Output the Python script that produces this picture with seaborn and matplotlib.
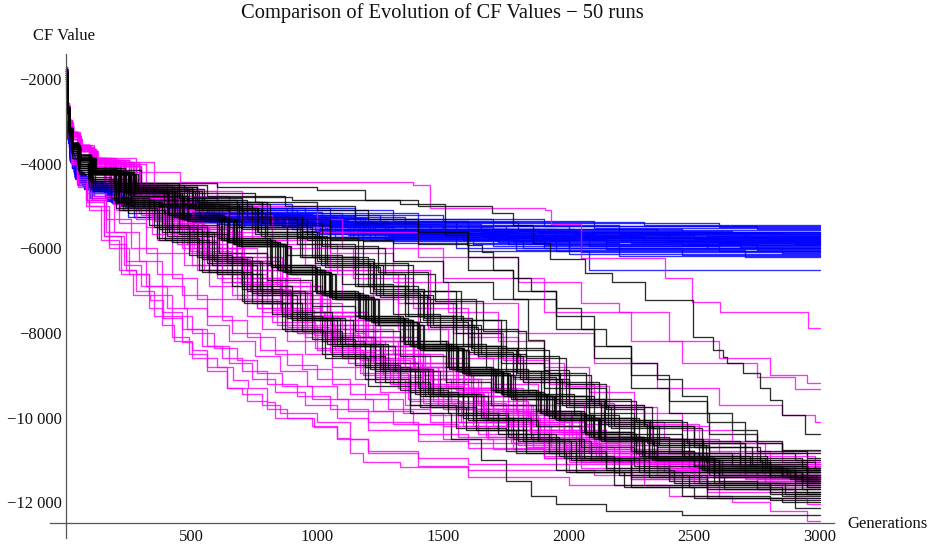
import numpy as np
import pandas as pd
import matplotlib
matplotlib.use("Agg")
import matplotlib.pyplot as plt
import seaborn as sns

# ---------------- data: step breakpoints (generation, CF value) per run ----------------
BLUE_RUNS = [
 [(0,-1750),(3,-2650),(8,-3300),(17,-3800),(36,-4200),(72,-4450),(160,-4700),(420,-4950),(900,-5200),(1500,-5380),(2300,-5450)],
 [(0,-1900),(4,-2800),(10,-3450),(20,-3900),(40,-4300),(85,-4550),(230,-4800),(600,-5050),(1150,-5300),(1900,-5480)],
 [(0,-2100),(3,-2700),(7,-3250),(15,-3750),(32,-4150),(60,-4400),(130,-4650),(350,-4900),(780,-5150),(1400,-5400),(2600,-5500)],
 [(0,-1700),(4,-2750),(9,-3400),(19,-3900),(42,-4300),(100,-4600),(280,-4850),(700,-5100),(1300,-5350),(2100,-5520)],
 [(0,-2300),(3,-2900),(8,-3400),(16,-3850),(34,-4250),(78,-4500),(200,-4750),(520,-5050),(1050,-5300),(1700,-5470),(2750,-5550)],
 [(0,-1800),(4,-2700),(9,-3350),(18,-3850),(38,-4250),(75,-4550),(190,-4850),(480,-5100),(1000,-5380),(1800,-5570)],
 [(0,-2000),(3,-2750),(8,-3350),(16,-3800),(34,-4200),(65,-4450),(170,-4750),(450,-5050),(950,-5350),(1600,-5540),(2450,-5600)],
 [(0,-1950),(4,-2800),(10,-3450),(21,-3950),(45,-4350),(95,-4600),(250,-4900),(650,-5200),(1250,-5480),(2000,-5620)],
 [(0,-2200),(3,-2700),(7,-3300),(14,-3750),(30,-4150),(60,-4400),(150,-4700),(400,-5050),(880,-5380),(1550,-5590),(2650,-5640)],
 [(0,-1850),(4,-2750),(9,-3400),(18,-3900),(40,-4300),(85,-4550),(220,-4850),(560,-5150),(1100,-5450),(2200,-5650)],
 [(0,-2400),(3,-2900),(8,-3500),(17,-3950),(36,-4350),(70,-4600),(180,-4900),(470,-5200),(1000,-5480),(1750,-5630),(2850,-5670)],
 [(0,-1750),(4,-2800),(11,-3500),(23,-4000),(48,-4400),(120,-4650),(300,-4950),(740,-5250),(1350,-5540),(2350,-5690)],
 [(0,-2050),(3,-2750),(8,-3350),(16,-3850),(35,-4250),(78,-4500),(200,-4800),(500,-5130),(1020,-5430),(1650,-5610),(2550,-5700)],
 [(0,-1900),(4,-2750),(10,-3400),(20,-3900),(42,-4300),(90,-4580),(230,-4900),(580,-5230),(1150,-5530),(1950,-5720)],
 [(0,-2150),(3,-2700),(7,-3300),(15,-3800),(31,-4200),(62,-4430),(160,-4780),(430,-5100),(920,-5430),(1500,-5640),(2700,-5740)],
 [(0,-1800),(4,-2800),(10,-3450),(22,-3950),(46,-4350),(100,-4620),(260,-4950),(640,-5280),(1200,-5580),(2050,-5750)],
 [(0,-2250),(3,-2850),(8,-3400),(17,-3900),(36,-4300),(72,-4530),(185,-4850),(460,-5180),(980,-5500),(1700,-5690),(2500,-5770)],
 [(0,-1950),(4,-2750),(9,-3400),(19,-3900),(40,-4300),(88,-4580),(215,-4900),(540,-5250),(1080,-5560),(1850,-5780)],
 [(0,-2000),(4,-2800),(10,-3450),(21,-3950),(45,-4350),(98,-4630),(245,-4950),(620,-5280),(1180,-5580),(1980,-5720),(2800,-5800)],
 [(0,-1700),(3,-2700),(8,-3350),(17,-3850),(36,-4250),(76,-4500),(195,-4850),(490,-5200),(1030,-5530),(1780,-5820)],
 [(0,-2300),(3,-2800),(7,-3350),(14,-3800),(30,-4200),(60,-4450),(155,-4800),(410,-5150),(860,-5480),(1450,-5690),(2400,-5830)],
 [(0,-1850),(4,-2750),(10,-3400),(20,-3900),(42,-4320),(92,-4600),(235,-4950),(600,-5300),(1170,-5630),(2150,-5850)],
 [(0,-2100),(3,-2750),(8,-3350),(16,-3850),(34,-4250),(70,-4500),(180,-4850),(470,-5220),(990,-5560),(1680,-5750),(2600,-5860)],
 [(0,-1900),(4,-2800),(11,-3500),(23,-4000),(50,-4400),(108,-4680),(275,-5000),(690,-5350),(1280,-5680),(2250,-5880)],
 [(0,-2200),(3,-2800),(8,-3400),(17,-3900),(37,-4300),(80,-4560),(205,-4900),(520,-5270),(1060,-5620),(1800,-5810),(2900,-5900)],
 [(0,-1800),(4,-2750),(9,-3400),(19,-3900),(40,-4300),(85,-4600),(220,-4950),(560,-5330),(1120,-5680),(1900,-5910)],
 [(0,-2050),(3,-2700),(7,-3300),(15,-3800),(32,-4200),(64,-4450),(165,-4830),(440,-5200),(940,-5580),(1580,-5790),(2450,-5930)],
 [(0,-1950),(4,-2800),(10,-3450),(21,-3950),(46,-4350),(100,-4650),(255,-5000),(650,-5370),(1230,-5730),(2080,-5950)],
 [(0,-2350),(3,-2850),(8,-3400),(17,-3900),(36,-4300),(74,-4540),(190,-4900),(480,-5270),(1010,-5640),(1720,-5840),(2680,-5960)],
 [(0,-1750),(4,-2750),(9,-3400),(19,-3900),(41,-4320),(90,-4620),(230,-4980),(590,-5370),(1160,-5740),(2000,-5980)],
 [(0,-2000),(3,-2750),(8,-3350),(17,-3850),(36,-4250),(77,-4530),(198,-4900),(500,-5280),(1040,-5660),(1760,-5890),(2550,-6000)],
 [(0,-1850),(4,-2900),(11,-3600),(23,-4100),(48,-4500),(105,-4850),(270,-5250),(680,-5450),(1270,-5780),(2150,-6010)],
 [(0,-2150),(3,-2700),(7,-3300),(15,-3800),(32,-4200),(66,-4470),(170,-4850),(450,-5250),(960,-5660),(1620,-5890),(2750,-6030)],
 [(0,-1900),(4,-2750),(9,-3400),(19,-3900),(40,-4300),(86,-4600),(220,-4980),(570,-5380),(1130,-5760),(1950,-6050)],
 [(0,-2250),(3,-2850),(8,-3400),(16,-3900),(35,-4300),(71,-4560),(182,-4930),(470,-5330),(1000,-5720),(1700,-5940),(2600,-6060)],
 [(0,-1800),(4,-2900),(10,-3600),(22,-4100),(46,-4500),(97,-4800),(248,-5250),(630,-5450),(1210,-5810),(2050,-6080)],
 [(0,-2050),(3,-2750),(8,-3350),(17,-3850),(37,-4280),(79,-4560),(203,-4930),(515,-5330),(1070,-5740),(1820,-5990),(2850,-6100)],
 [(0,-1950),(4,-2750),(10,-3400),(20,-3900),(42,-4320),(91,-4630),(233,-5010),(600,-5420),(1180,-5830),(2000,-6120)],
 [(0,-2300),(3,-2800),(7,-3350),(14,-3850),(30,-4250),(63,-4500),(162,-4880),(430,-5300),(920,-5730),(1550,-5990),(2450,-6150)],
 [(0,-1750),(4,-2850),(11,-3550),(24,-4100),(50,-4500),(112,-4750),(285,-5100),(710,-5500),(1300,-5880),(2200,-6170)],
 [(0,-2100),(3,-2800),(8,-3400),(17,-3900),(36,-4320),(76,-4580),(196,-4950),(500,-5370),(1050,-5780),(1790,-6040),(2700,-6200)],
 [(0,-1900),(4,-2750),(9,-3400),(18,-3900),(39,-4300),(83,-4600),(212,-4950),(540,-5300),(1090,-5530),(1880,-5600)],
 [(0,-2200),(3,-2750),(8,-3350),(16,-3850),(34,-4250),(69,-4520),(176,-4870),(460,-5230),(970,-5530),(1660,-5700)],
 [(0,-1850),(4,-2800),(10,-3450),(21,-3950),(45,-4350),(99,-4630),(252,-4980),(640,-5350),(1220,-5660),(2100,-5800)],
 [(0,-2000),(3,-2700),(7,-3300),(14,-3800),(30,-4200),(61,-4450),(158,-4820),(420,-5180),(900,-5530),(1520,-5740),(2480,-5900)],
 [(0,-1800),(4,-2750),(10,-3400),(20,-3900),(43,-4320),(94,-4620),(240,-4950),(610,-5280),(1190,-5530),(2020,-5650)],
 [(0,-2250),(3,-2850),(8,-3400),(17,-3900),(36,-4300),(73,-4540),(187,-4900),(480,-5250),(1010,-5550),(1730,-5750)],
 [(0,-1950),(4,-2850),(11,-3500),(23,-4000),(49,-4420),(107,-4680),(272,-5030),(700,-5400),(1280,-5700),(2300,-5850)],
 [(0,-2100),(4,-2800),(10,-3450),(21,-3950),(44,-4350),(88,-4600),(225,-4970),(570,-5350),(1140,-5730),(1900,-6000)],
 [(0,-1900),(3,-2750),(8,-3400),(17,-3900),(37,-4300),(80,-4560),(205,-4930),(530,-5300),(1100,-5730),(1600,-6050),(2080,-6500)],
]

MAGENTA_RUNS = [
 [(0,-1800),(4,-2600),(11,-3000),(25,-3350),(55,-3650),(110,-3950),(180,-4200),(454,-4430),(1381,-4500),(1448,-5050),(1906,-5100),(1930,-5430),(2049,-6230),(2384,-6700),(2491,-7270),(2602,-7500),(2953,-7890)],
 [(0,-1750),(4,-2550),(10,-2950),(23,-3300),(52,-3600),(105,-3900),(250,-4450),(600,-5000),(1000,-5600),(1400,-6200),(1800,-6800),(2050,-7300),(2200,-7500),(2400,-8200),(2600,-8600),(2800,-9000),(2950,-9190)],
 [(0,-2000),(4,-2650),(11,-3050),(25,-3350),(56,-3650),(120,-3950),(350,-4650),(700,-5300),(1100,-6000),(1500,-6700),(1900,-7500),(2250,-8200),(2450,-8700),(2750,-9050),(2900,-9330)],
 [(0,-1900),(4,-2600),(10,-3000),(23,-3350),(50,-3650),(110,-4050),(300,-4750),(650,-5600),(1050,-6500),(1450,-7300),(1800,-8000),(2100,-8700),(2350,-9300),(2600,-9700),(2850,-9950),(2980,-10110)],
 [(0,-1800),(4,-2750),(10,-3350),(22,-3950),(45,-4450),(80,-4850),(150,-5700),(220,-6600),(267,-7110),(334,-7230),(387,-7650),(461,-8220),(500,-8600),(600,-8810),(665,-9120),(725,-9300),(800,-9640),(832,-10010),(985,-10230),(1078,-10490),(1130,-10850),(1183,-11060),(1330,-11180),(1600,-11250),(2100,-11350),(2700,-11450)],
 [(0,-1900),(4,-2800),(10,-3400),(23,-4000),(48,-4500),(90,-5000),(170,-5900),(240,-6500),(280,-6600),(330,-7400),(380,-7800),(430,-8200),(500,-8400),(560,-8800),(640,-9300),(700,-9450),(780,-9700),(850,-9900),(1000,-10100),(1130,-10500),(1200,-10800),(1400,-10950),(1600,-11100),(2000,-11300),(2600,-11500)],
 [(0,-1850),(4,-2750),(10,-3350),(22,-3950),(47,-4450),(85,-4850),(160,-5600),(240,-6300),(320,-6900),(400,-7400),(480,-7900),(560,-8300),(650,-8700),(740,-9100),(830,-9400),(950,-9700),(1080,-10000),(1200,-10300),(1400,-10550),(1600,-10730),(1900,-10950),(2300,-11200),(2700,-11400)],
 [(0,-1850),(4,-2600),(10,-3000),(23,-3300),(50,-3600),(100,-3900),(180,-4450),(330,-5100),(520,-5800),(700,-6500),(880,-7200),(1050,-7800),(1250,-8500),(1450,-9100),(1650,-9700),(1850,-10200),(2050,-10650),(2250,-10950),(2500,-11120),(2750,-11200)],
 [(0,-1950),(4,-2650),(11,-3050),(25,-3350),(55,-3650),(115,-3950),(260,-4700),(450,-5500),(640,-6300),(820,-7000),(980,-7600),(1180,-8300),(1380,-8900),(1560,-9500),(1780,-10100),(2000,-10600),(2200,-10950),(2450,-11200),(2800,-11300)],
 [(0,-1750),(3,-2550),(9,-2950),(21,-3250),(48,-3550),(95,-3850),(160,-4350),(300,-5200),(460,-6000),(620,-6800),(780,-7500),(950,-8100),(1120,-8700),(1320,-9300),(1500,-9800),(1720,-10300),(1920,-10750),(2150,-11050),(2450,-11250),(2750,-11350)],
 [(0,-2100),(4,-2650),(11,-3050),(24,-3350),(53,-3650),(108,-3950),(230,-4650),(420,-5300),(600,-6000),(760,-6700),(930,-7300),(1100,-7900),(1300,-8500),(1500,-9100),(1700,-9700),(1900,-10200),(2100,-10650),(2350,-10950),(2700,-11100)],
 [(0,-1800),(4,-2600),(10,-3000),(22,-3300),(50,-3600),(100,-3900),(200,-4550),(380,-5400),(550,-6200),(720,-6900),(900,-7600),(1080,-8200),(1270,-8800),(1480,-9400),(1680,-9900),(1900,-10400),(2150,-10900),(2400,-11250),(2750,-11450)],
 [(0,-2000),(4,-2600),(10,-3000),(23,-3300),(51,-3600),(102,-3950),(240,-4850),(430,-5700),(600,-6600),(760,-7400),(920,-8000),(1100,-8600),(1300,-9200),(1520,-9800),(1750,-10300),(1980,-10750),(2250,-11050),(2600,-11250)],
 [(0,-1900),(3,-2550),(9,-2950),(21,-3250),(47,-3550),(95,-3850),(190,-4500),(360,-5300),(540,-6100),(700,-6800),(860,-7500),(1030,-8100),(1220,-8700),(1420,-9300),(1630,-9900),(1850,-10400),(2080,-10850),(2350,-11200),(2700,-11400)],
 [(0,-1850),(4,-2700),(12,-3100),(27,-3400),(60,-3700),(125,-4000),(280,-4800),(480,-5500),(680,-6200),(860,-6900),(1020,-7500),(1200,-8100),(1400,-8700),(1600,-9300),(1820,-9900),(2050,-10400),(2280,-10850),(2550,-11150),(2900,-11250)],
 [(0,-2200),(4,-2650),(10,-3050),(22,-3350),(48,-3650),(96,-3950),(170,-4600),(320,-5500),(470,-6400),(620,-7200),(780,-7900),(950,-8500),(1150,-9100),(1350,-9700),(1580,-10200),(1800,-10650),(2050,-11050),(2350,-11350),(2750,-11500)],
 [(0,-1750),(4,-2600),(11,-3000),(24,-3300),(54,-3600),(110,-3900),(250,-4700),(440,-5400),(620,-6100),(800,-6800),(970,-7500),(1150,-8100),(1340,-8700),(1540,-9300),(1740,-9850),(1960,-10350),(2200,-10850),(2480,-11200),(2850,-11350)],
 [(0,-1950),(4,-2650),(11,-3050),(25,-3350),(56,-3650),(112,-3950),(265,-4750),(460,-5500),(640,-6300),(800,-7000),(960,-7600),(1130,-8200),(1320,-8800),(1510,-9300),(1700,-9800),(1920,-10300),(2150,-10750),(2450,-11050),(2800,-11150)],
 [(0,-1800),(3,-2550),(8,-2950),(20,-3250),(45,-3550),(92,-3850),(155,-4400),(290,-5150),(440,-5900),(600,-6700),(760,-7400),(920,-8000),(1100,-8600),(1290,-9200),(1480,-9700),(1700,-10200),(1930,-10700),(2180,-11050),(2500,-11300),(2850,-11400)],
 [(0,-2050),(4,-2700),(12,-3100),(26,-3400),(58,-3700),(118,-4000),(290,-4850),(500,-5600),(700,-6400),(880,-7100),(1050,-7700),(1230,-8300),(1420,-8900),(1620,-9500),(1830,-10000),(2050,-10500),(2300,-10950),(2580,-11250),(2950,-11400)],
 [(0,-1900),(4,-2600),(10,-3000),(22,-3300),(49,-3600),(98,-3900),(205,-4600),(370,-5300),(540,-6000),(710,-6700),(870,-7300),(1040,-7900),(1230,-8500),(1430,-9100),(1640,-9700),(1860,-10200),(2080,-10650),(2350,-11000),(2700,-11150)],
 [(0,-1700),(4,-2600),(11,-3000),(24,-3300),(53,-3600),(106,-3950),(235,-4750),(410,-5600),(580,-6400),(740,-7100),(900,-7800),(1070,-8400),(1260,-9000),(1460,-9600),(1670,-10100),(1900,-10600),(2130,-11050),(2400,-11400),(2800,-11550)],
 [(0,-2150),(4,-2600),(10,-3000),(22,-3300),(49,-3600),(97,-3900),(185,-4550),(340,-5250),(510,-6000),(680,-6700),(850,-7400),(1010,-8000),(1190,-8600),(1390,-9200),(1600,-9800),(1820,-10300),(2050,-10800),(2320,-11100),(2700,-11300)],
 [(0,-1850),(4,-2650),(11,-3050),(25,-3350),(56,-3650),(114,-3950),(270,-4800),(470,-5500),(660,-6200),(840,-6900),(1010,-7500),(1190,-8100),(1380,-8700),(1580,-9300),(1790,-9850),(2010,-10350),(2250,-10850),(2520,-11150),(2900,-11300)],
 [(0,-2000),(4,-2600),(10,-3000),(23,-3300),(51,-3600),(103,-3900),(215,-4650),(390,-5450),(560,-6250),(730,-7000),(890,-7650),(1060,-8250),(1250,-8850),(1450,-9450),(1660,-10000),(1880,-10500),(2120,-10950),(2400,-11300),(2780,-11500)],
 [(0,-1800),(4,-2700),(12,-3100),(27,-3400),(60,-3700),(125,-4050),(300,-4900),(510,-5700),(700,-6500),(880,-7200),(1050,-7800),(1230,-8400),(1420,-9000),(1620,-9600),(1840,-10100),(2070,-10600),(2300,-11000),(2580,-11350),(2950,-11500)],
 [(0,-1950),(3,-2550),(9,-2950),(21,-3250),(47,-3550),(95,-3850),(175,-4500),(320,-5200),(480,-5900),(640,-6600),(800,-7300),(960,-7900),(1140,-8500),(1330,-9100),(1530,-9650),(1750,-10150),(1980,-10650),(2250,-11000),(2600,-11250),(2950,-11350)],
 [(0,-1900),(4,-2600),(10,-3000),(23,-3300),(51,-3600),(102,-3950),(225,-4700),(400,-5500),(570,-6300),(735,-7000),(895,-7650),(1065,-8250),(1255,-8850),(1455,-9450),(1665,-10000),(1885,-10500),(2120,-10950),(2400,-11350),(2780,-11600)],
 [(0,-2100),(4,-2700),(12,-3100),(26,-3400),(58,-3700),(117,-4000),(280,-4800),(485,-5550),(675,-6300),(850,-7000),(1015,-7600),(1195,-8200),(1385,-8800),(1585,-9400),(1795,-9950),(2015,-10450),(2250,-10950),(2530,-11250),(2900,-11450)],
 [(0,-1750),(4,-2600),(10,-3000),(22,-3300),(49,-3600),(98,-3900),(195,-4600),(355,-5350),(525,-6100),(695,-6850),(855,-7500),(1025,-8100),(1215,-8700),(1415,-9300),(1625,-9850),(1845,-10350),(2080,-10850),(2350,-11200),(2700,-11400)],
 [(0,-2000),(3,-2550),(8,-2950),(19,-3250),(44,-3550),(90,-3850),(150,-4450),(280,-5300),(420,-6100),(570,-6900),(720,-7600),(880,-8200),(1060,-8800),(1250,-9400),(1450,-9950),(1670,-10450),(1900,-10950),(2180,-11300),(2500,-11550),(2850,-11650)],
 [(0,-1850),(4,-2650),(11,-3050),(25,-3350),(55,-3650),(112,-3950),(260,-4750),(455,-5550),(640,-6300),(815,-7000),(980,-7600),(1160,-8200),(1350,-8800),(1550,-9350),(1760,-9900),(1980,-10400),(2200,-10850),(2480,-11200),(2850,-11350)],
 [(0,-1950),(4,-2600),(10,-3000),(23,-3300),(50,-3600),(101,-3900),(220,-4700),(395,-5500),(565,-6250),(730,-6950),(890,-7600),(1060,-8200),(1250,-8800),(1450,-9400),(1660,-9950),(1880,-10450),(2110,-10950),(2380,-11300),(2750,-11550)],
 [(0,-1800),(3,-2550),(9,-2950),(21,-3250),(47,-3550),(94,-3850),(180,-4550),(330,-5300),(495,-6050),(660,-6800),(820,-7450),(985,-8050),(1170,-8650),(1370,-9250),(1580,-9800),(1800,-10300),(2030,-10800),(2300,-11150),(2680,-11400)],
 [(0,-2050),(4,-2700),(12,-3100),(26,-3400),(59,-3700),(120,-4050),(295,-4900),(505,-5650),(700,-6400),(875,-7100),(1040,-7700),(1220,-8300),(1410,-8900),(1610,-9500),(1820,-10050),(2040,-10550),(2270,-11050),(2550,-11400),(2950,-11600)],
 [(0,-1800),(4,-2700),(10,-3300),(22,-3900),(45,-4400),(85,-4900),(150,-5700),(230,-6400),(300,-6900),(380,-7500),(460,-7900),(540,-8300),(620,-8600),(700,-8900),(800,-9200),(920,-9500),(1050,-9800),(1200,-10100),(1400,-10400),(1600,-10600),(1900,-10900),(2250,-11100),(2650,-11300)],
 [(0,-2000),(4,-2800),(10,-3400),(23,-4000),(48,-4550),(92,-5100),(170,-6000),(250,-6600),(330,-7100),(420,-7600),(500,-8000),(590,-8350),(680,-8650),(760,-8950),(860,-9250),(980,-9550),(1120,-9850),(1300,-10150),(1500,-10500),(1700,-10750),(2000,-11000),(2350,-11200),(2750,-11400)],
 [(0,-1900),(4,-2750),(9,-3350),(20,-3950),(42,-4500),(78,-5000),(140,-5800),(210,-6500),(280,-7000),(350,-7600),(420,-8100),(490,-8500),(560,-8900),(640,-9300),(720,-9600),(800,-9800),(880,-10000),(980,-10200),(1080,-10500),(1200,-10850),(1400,-11150),(1600,-11410),(2000,-11600),(2400,-11850),(2650,-12000),(2800,-12200),(2950,-12450)],
 [(0,-1850),(4,-2700),(10,-3300),(23,-3850),(48,-4350),(98,-4800),(190,-5600),(290,-6300),(380,-6900),(470,-7400),(560,-7800),(650,-8200),(750,-8550),(850,-8900),(960,-9250),(1080,-9550),(1220,-9850),(1380,-10150),(1560,-10450),(1780,-10750),(2050,-11000),(2400,-11250),(2800,-11450)],
 [(0,-2100),(4,-2700),(11,-3250),(24,-3800),(52,-4300),(108,-4750),(210,-5400),(320,-6100),(420,-6700),(520,-7200),(620,-7700),(720,-8100),(830,-8500),(940,-8850),(1060,-9200),(1190,-9550),(1340,-9900),(1500,-10200),(1680,-10500),(1900,-10800),(2200,-11050),(2550,-11300),(2900,-11500)],
 [(0,-1750),(4,-2700),(10,-3300),(21,-3850),(44,-4350),(82,-4700),(160,-5300),(260,-6000),(360,-6600),(460,-7100),(560,-7600),(660,-8000),(770,-8400),(880,-8750),(1000,-9100),(1130,-9450),(1280,-9800),(1450,-10100),(1640,-10400),(1860,-10700),(2130,-10950),(2480,-11200),(2850,-11400)],
 [(0,-1800),(4,-2550),(11,-2950),(25,-3250),(56,-3550),(112,-3850),(280,-4500),(520,-5000),(800,-5500),(1050,-6100),(1300,-6800),(1520,-7500),(1720,-8200),(1900,-8800),(2080,-9400),(2260,-9900),(2450,-10300),(2650,-10600),(2850,-10800)],
 [(0,-2000),(4,-2600),(10,-3000),(23,-3300),(51,-3600),(100,-3900),(230,-4500),(450,-5100),(700,-5700),(950,-6400),(1180,-7100),(1400,-7800),(1600,-8500),(1780,-9100),(1950,-9600),(2130,-10100),(2330,-10500),(2560,-10800),(2800,-11000)],
 [(0,-1900),(4,-2650),(12,-3050),(27,-3350),(60,-3650),(120,-3950),(290,-4600),(540,-5200),(820,-5900),(1080,-6600),(1320,-7300),(1540,-8000),(1740,-8650),(1920,-9200),(2100,-9700),(2300,-10150),(2520,-10550),(2750,-10850),(2950,-11000)],
 [(0,-1850),(3,-2550),(9,-2950),(21,-3250),(46,-3550),(92,-3850),(200,-4450),(400,-5100),(640,-5800),(880,-6500),(1100,-7200),(1320,-7900),(1520,-8600),(1700,-9200),(1880,-9700),(2060,-10150),(2260,-10550),(2480,-10850),(2750,-11100)],
 [(0,-2050),(4,-2600),(10,-3000),(23,-3300),(52,-3600),(105,-3900),(250,-4550),(480,-5150),(740,-5800),(990,-6500),(1220,-7200),(1440,-7900),(1640,-8600),(1820,-9150),(2000,-9650),(2180,-10100),(2380,-10500),(2600,-10850),(2850,-11050)],
 [(0,-1750),(4,-2700),(12,-3100),(28,-3400),(62,-3700),(128,-4000),(320,-4650),(600,-5300),(880,-6000),(1140,-6700),(1380,-7400),(1600,-8100),(1800,-8700),(1980,-9250),(2160,-9750),(2350,-10200),(2560,-10600),(2780,-10900),(2980,-11050)],
 [(0,-1950),(4,-2650),(10,-3150),(22,-3600),(48,-4050),(95,-4500),(200,-5100),(360,-5800),(520,-6500),(680,-7200),(840,-7800),(1000,-8400),(1180,-9000),(1370,-9600),(1570,-10100),(1780,-10600),(2000,-11050),(2250,-11450),(2550,-11750),(2900,-11900)],
 [(0,-1800),(4,-2700),(10,-3200),(22,-3650),(47,-4100),(96,-4450),(215,-5050),(380,-5750),(550,-6500),(720,-7200),(880,-7850),(1050,-8450),(1230,-9050),(1420,-9650),(1620,-10200),(1830,-10700),(2050,-11200),(2300,-11600),(2600,-11900),(2950,-12050)],
 [(0,-2100),(4,-2650),(10,-3100),(21,-3550),(45,-4000),(88,-4400),(185,-4950),(340,-5650),(500,-6400),(660,-7100),(820,-7750),(990,-8350),(1170,-8950),(1360,-9550),(1560,-10100),(1770,-10600),(1990,-11100),(2250,-11450),(2550,-11700),(2900,-11800)],
]

BLACK_RUNS = [
 [(0,-1800),(4,-2700),(11,-3200),(24,-3550),(52,-3850),(120,-4150),(300,-4450),(600,-4550),(1000,-4620),(1190,-4860),(1400,-5000),(1695,-5170),(1779,-5450),(1858,-5880),(1926,-6240),(2065,-6590),(2173,-6800),(2304,-7230),(2495,-8100),(2575,-8410),(2614,-8570),(2630,-8710),(2694,-8950),(2762,-9300),(2800,-9590),(2850,-9950),(2940,-10380)],
 [(0,-1900),(4,-2750),(10,-3250),(23,-3600),(50,-3900),(105,-4250),(250,-4550),(500,-4780),(900,-4860),(1330,-4950),(1508,-5690),(1595,-5920),(1655,-6090),(1700,-6510),(1780,-6700),(1850,-7000),(1950,-7400),(2050,-7900),(2150,-8300),(2250,-8700),(2350,-9100),(2450,-9500),(2550,-9900),(2650,-10300),(2750,-10600),(2850,-10780)],
 [(0,-1750),(4,-2650),(10,-3150),(22,-3500),(48,-3800),(98,-4100),(220,-4450),(450,-4700),(750,-4900),(1000,-5100),(1200,-5300),(1400,-5600),(1600,-6200),(1800,-7000),(1950,-7600),(2100,-8300),(2250,-9000),(2400,-9600),(2550,-10100),(2700,-10550),(2850,-10850)],
 [(0,-2000),(4,-2700),(11,-3200),(24,-3550),(53,-3850),(110,-4200),(260,-4550),(520,-4900),(800,-5300),(1050,-5800),(1300,-6300),(1500,-6800),(1700,-7200),(1840,-8160),(1900,-8870),(2000,-9300),(2150,-9800),(2300,-10200),(2500,-10600),(2700,-10850),(2900,-11000)],
 [(0,-1850),(4,-2700),(10,-3200),(22,-3550),(47,-3850),(95,-4150),(200,-4500),(420,-4850),(680,-5300),(920,-5900),(1150,-6600),(1350,-7300),(1550,-8000),(1730,-8700),(1900,-9300),(2080,-9900),(2260,-10400),(2450,-10850),(2680,-11150),(2950,-11250)],
 [(0,-1950),(4,-2750),(10,-3250),(23,-3600),(50,-3900),(102,-4200),(240,-4600),(480,-5000),(740,-5500),(980,-6200),(1200,-6900),(1400,-7600),(1580,-8300),(1750,-8900),(1920,-9500),(2100,-10000),(2280,-10500),(2480,-10900),(2720,-11150),(2950,-11200)],
 [(0,-1800),(4,-2700),(11,-3200),(25,-3600),(55,-3900),(115,-4250),(280,-4650),(540,-5100),(800,-5700),(1040,-6400),(1260,-7100),(1460,-7800),(1650,-8500),(1830,-9100),(2000,-9700),(2180,-10200),(2360,-10650),(2560,-11000),(2800,-11250)],
 [(0,-2050),(4,-2650),(10,-3150),(22,-3500),(48,-3800),(97,-4150),(210,-4550),(430,-4950),(690,-5500),(930,-6200),(1150,-6900),(1350,-7600),(1540,-8300),(1720,-8900),(1890,-9500),(2070,-10000),(2250,-10500),(2450,-10900),(2680,-11200),(2950,-11350)],
 [(0,-1900),(4,-2700),(11,-3200),(24,-3550),(52,-3850),(106,-4200),(250,-4600),(500,-5050),(760,-5600),(1000,-6300),(1220,-7000),(1420,-7700),(1610,-8400),(1790,-9000),(1960,-9600),(2140,-10100),(2320,-10550),(2530,-10950),(2780,-11250)],
 [(0,-1750),(4,-2650),(10,-3150),(21,-3500),(46,-3800),(94,-4100),(190,-4500),(400,-4950),(650,-5500),(880,-6150),(1100,-6850),(1300,-7550),(1490,-8250),(1670,-8850),(1840,-9450),(2020,-9950),(2200,-10450),(2400,-10850),(2650,-11150),(2950,-11300)],
 [(0,-2000),(4,-2700),(10,-3200),(23,-3550),(50,-3850),(103,-4200),(245,-4600),(490,-5050),(750,-5650),(990,-6350),(1210,-7050),(1410,-7750),(1600,-8450),(1780,-9050),(1950,-9650),(2130,-10150),(2310,-10600),(2520,-11000),(2770,-11300)],
 [(0,-1850),(4,-2750),(11,-3250),(25,-3600),(55,-3900),(112,-4250),(275,-4650),(530,-5150),(790,-5750),(1030,-6450),(1250,-7150),(1450,-7850),(1640,-8550),(1820,-9150),(1990,-9750),(2170,-10250),(2350,-10700),(2560,-11100),(2800,-11400)],
 [(0,-1950),(4,-2650),(10,-3150),(22,-3500),(48,-3800),(98,-4150),(215,-4550),(440,-5000),(700,-5550),(940,-6200),(1160,-6900),(1360,-7600),(1550,-8300),(1730,-8900),(1900,-9500),(2080,-10000),(2260,-10500),(2460,-10950),(2700,-11300),(2950,-11450)],
 [(0,-1800),(4,-2700),(10,-3200),(23,-3550),(51,-3850),(104,-4200),(255,-4600),(505,-5050),(765,-5600),(1005,-6250),(1225,-6950),(1425,-7650),(1615,-8350),(1795,-8950),(1965,-9550),(2145,-10050),(2325,-10500),(2535,-10900),(2790,-11200)],
 [(0,-2100),(4,-2750),(11,-3250),(24,-3600),(53,-3900),(108,-4250),(265,-4650),(515,-5100),(775,-5700),(1015,-6400),(1235,-7100),(1435,-7800),(1625,-8500),(1805,-9100),(1975,-9700),(2155,-10200),(2335,-10650),(2545,-11050),(2800,-11350)],
 [(0,-1900),(4,-2750),(10,-3300),(22,-3700),(48,-4050),(95,-4400),(200,-4900),(380,-5500),(560,-6200),(740,-6900),(900,-7500),(1060,-8100),(1230,-8700),(1400,-9300),(1580,-9900),(1760,-10400),(1950,-10800),(2150,-11200),(2400,-11500),(2750,-11700)],
 [(0,-1800),(4,-2800),(11,-3350),(24,-3750),(52,-4100),(100,-4500),(220,-5000),(400,-5700),(580,-6400),(760,-7100),(920,-7700),(1080,-8300),(1250,-8900),(1430,-9500),(1620,-10050),(1820,-10550),(2030,-11000),(2250,-11350),(2550,-11600),(2900,-11750)],
 [(0,-2000),(4,-2700),(10,-3250),(21,-3650),(45,-4000),(88,-4350),(190,-4850),(350,-5500),(520,-6200),(700,-6950),(860,-7600),(1020,-8200),(1190,-8800),(1370,-9400),(1560,-9950),(1760,-10450),(1960,-10900),(2180,-11300),(2450,-11600),(2800,-11800)],
 [(0,-1850),(4,-2750),(11,-3300),(24,-3700),(52,-4050),(105,-4450),(240,-4950),(420,-5600),(600,-6300),(780,-7000),(950,-7650),(1110,-8250),(1280,-8850),(1460,-9450),(1650,-10000),(1850,-10500),(2060,-10950),(2300,-11300),(2600,-11550)],
 [(0,-1950),(4,-2700),(10,-3250),(22,-3650),(48,-4000),(96,-4400),(210,-4900),(370,-5550),(540,-6250),(720,-7000),(880,-7650),(1040,-8250),(1210,-8850),(1390,-9450),(1580,-10000),(1780,-10500),(1980,-10950),(2200,-11350),(2480,-11650),(2850,-11850)],
 [(0,-1750),(4,-2800),(11,-3350),(25,-3750),(55,-4100),(115,-4500),(260,-5000),(450,-5650),(640,-6350),(820,-7050),(980,-7700),(1140,-8300),(1310,-8900),(1490,-9500),(1680,-10050),(1880,-10550),(2090,-11000),(2320,-11400),(2620,-11700),(2950,-11800)],
 [(0,-2050),(4,-2700),(10,-3250),(22,-3650),(47,-4000),(92,-4400),(205,-4900),(380,-5600),(560,-6350),(740,-7050),(900,-7700),(1060,-8300),(1230,-8900),(1410,-9500),(1600,-10050),(1800,-10550),(2010,-11000),(2250,-11400),(2550,-11700),(2900,-11900)],
 [(0,-1900),(4,-2750),(11,-3300),(24,-3700),(51,-4050),(102,-4450),(230,-4950),(410,-5600),(590,-6300),(770,-7000),(930,-7650),(1090,-8250),(1260,-8850),(1440,-9450),(1630,-10000),(1830,-10500),(2040,-10950),(2280,-11300),(2580,-11550),(2950,-11650)],
 [(0,-1800),(4,-2650),(10,-3200),(21,-3600),(45,-3950),(86,-4300),(180,-4800),(330,-5450),(490,-6150),(660,-6900),(820,-7550),(980,-8150),(1150,-8750),(1330,-9350),(1520,-9900),(1720,-10400),(1920,-10850),(2150,-11250),(2420,-11550),(2800,-11750)],
 [(0,-1950),(4,-2700),(10,-3200),(23,-3550),(50,-3850),(102,-4200),(230,-4700),(440,-5250),(650,-5850),(850,-6500),(1030,-7100),(1200,-7700),(1380,-8300),(1560,-8900),(1740,-9500),(1920,-10000),(2100,-10500),(2300,-10950),(2550,-11300),(2900,-11500)],
 [(0,-1850),(4,-2750),(11,-3250),(25,-3600),(54,-3900),(112,-4250),(260,-4750),(470,-5300),(680,-5950),(880,-6600),(1060,-7200),(1230,-7800),(1410,-8400),(1590,-9000),(1770,-9550),(1950,-10050),(2130,-10550),(2340,-11000),(2600,-11350),(2950,-11550)],
 [(0,-2000),(4,-2650),(10,-3150),(22,-3500),(48,-3800),(97,-4150),(215,-4650),(420,-5200),(630,-5800),(830,-6450),(1010,-7050),(1180,-7650),(1360,-8250),(1540,-8850),(1720,-9400),(1900,-9950),(2080,-10450),(2280,-10900),(2530,-11250),(2880,-11450)],
 [(0,-1800),(4,-2700),(11,-3200),(24,-3550),(52,-3850),(106,-4200),(250,-4700),(460,-5300),(670,-5900),(870,-6550),(1050,-7150),(1220,-7750),(1400,-8350),(1580,-8950),(1760,-9500),(1940,-10000),(2120,-10500),(2320,-10950),(2580,-11300),(2930,-11500)],
 [(0,-1900),(4,-2700),(10,-3200),(23,-3550),(49,-3850),(100,-4200),(220,-4650),(430,-5250),(640,-5850),(840,-6500),(1020,-7100),(1190,-7700),(1370,-8300),(1550,-8900),(1730,-9450),(1910,-9950),(2090,-10450),(2290,-10900),(2540,-11250),(2900,-11450)],
 [(0,-2050),(4,-2650),(10,-3150),(21,-3500),(46,-3800),(94,-4100),(200,-4600),(400,-5150),(610,-5750),(810,-6400),(990,-7000),(1160,-7600),(1340,-8200),(1520,-8800),(1700,-9350),(1880,-9850),(2060,-10350),(2260,-10800),(2500,-11150),(2850,-11350)],
 [(0,-1750),(4,-2750),(11,-3250),(25,-3600),(55,-3900),(113,-4250),(270,-4750),(485,-5350),(695,-5950),(895,-6600),(1075,-7200),(1245,-7800),(1425,-8400),(1605,-9000),(1785,-9550),(1965,-10050),(2145,-10550),(2350,-11000),(2610,-11350),(2950,-11550)],
 [(0,-1950),(4,-2650),(10,-3150),(22,-3500),(48,-3800),(98,-4150),(210,-4650),(410,-5200),(620,-5800),(820,-6450),(1000,-7050),(1170,-7650),(1350,-8250),(1530,-8850),(1710,-9400),(1890,-9900),(2070,-10400),(2270,-10850),(2520,-11200),(2870,-11400)],
 [(0,-1850),(4,-2700),(11,-3200),(24,-3550),(51,-3850),(104,-4200),(245,-4700),(455,-5300),(665,-5900),(865,-6550),(1045,-7150),(1215,-7750),(1395,-8350),(1575,-8950),(1755,-9500),(1935,-10000),(2115,-10500),(2320,-10950),(2580,-11300),(2930,-11500)],
 [(0,-1900),(4,-2650),(10,-3150),(22,-3500),(49,-3800),(100,-4100),(235,-4500),(470,-4850),(720,-5300),(960,-5800),(1180,-6400),(1380,-7000),(1570,-7700),(1750,-8400),(1920,-9000),(2090,-9600),(2270,-10100),(2470,-10600),(2700,-11000),(2950,-11250)],
 [(0,-2000),(4,-2700),(11,-3200),(25,-3550),(54,-3850),(110,-4200),(265,-4550),(520,-4900),(780,-5400),(1020,-5950),(1240,-6550),(1440,-7200),(1630,-7900),(1800,-8550),(1960,-9150),(2120,-9700),(2300,-10200),(2500,-10700),(2730,-11100),(2950,-11300)],
 [(0,-1800),(4,-2650),(10,-3150),(22,-3500),(48,-3800),(97,-4100),(220,-4450),(450,-4800),(700,-5250),(940,-5750),(1160,-6350),(1360,-7000),(1550,-7700),(1730,-8350),(1900,-8950),(2070,-9550),(2250,-10050),(2450,-10550),(2680,-10950),(2930,-11200)],
 [(0,-1950),(4,-2750),(11,-3250),(25,-3600),(56,-3900),(116,-4250),(285,-4600),(550,-4950),(810,-5450),(1050,-6000),(1270,-6600),(1470,-7250),(1660,-7950),(1830,-8600),(1990,-9200),(2150,-9750),(2330,-10250),(2530,-10700),(2760,-11050),(2980,-11200)],
 [(0,-1850),(4,-2750),(10,-3300),(22,-3750),(47,-4150),(90,-4550),(200,-5050),(360,-5750),(530,-6500),(700,-7250),(860,-7900),(1020,-8500),(1190,-9100),(1370,-9700),(1550,-10250),(1750,-10800),(1950,-11250),(2180,-11600),(2450,-11850),(2800,-11950)],
 [(0,-2000),(4,-2800),(10,-3350),(23,-3800),(50,-4200),(100,-4600),(225,-5100),(395,-5800),(570,-6550),(740,-7300),(900,-7950),(1060,-8550),(1230,-9150),(1410,-9750),(1590,-10300),(1790,-10850),(1990,-11300),(2220,-11650),(2500,-11900),(2850,-12000)],
 [(0,-1750),(4,-2800),(11,-3400),(24,-3850),(52,-4250),(108,-4650),(245,-5150),(420,-5850),(600,-6600),(780,-7300),(940,-7950),(1100,-8550),(1270,-9150),(1450,-9750),(1630,-10300),(1830,-10850),(2030,-11300),(2250,-11650),(2550,-11900),(2900,-12150)],
 [(0,-1900),(4,-2750),(10,-3300),(22,-3750),(48,-4150),(90,-4550),(210,-5100),(370,-5800),(540,-6550),(710,-7300),(870,-7950),(1030,-8600),(1200,-9250),(1370,-9900),(1530,-10500),(1650,-11000),(1750,-11500),(1850,-11850),(1950,-12050),(2150,-12200),(2450,-12300)],
 [(0,-1800),(4,-2700),(10,-3200),(23,-3550),(50,-3850),(100,-4200),(235,-4700),(440,-5250),(650,-5850),(850,-6500),(1030,-7100),(1200,-7700),(1380,-8300),(1560,-8900),(1740,-9450),(1920,-9950),(2100,-10450),(2300,-10950),(2560,-11350),(2900,-11600)],
 [(0,-2050),(4,-2750),(11,-3250),(24,-3600),(53,-3900),(106,-4250),(255,-4750),(465,-5300),(675,-5900),(875,-6550),(1055,-7150),(1225,-7750),(1405,-8350),(1585,-8950),(1765,-9500),(1945,-10000),(2125,-10500),(2330,-11000),(2580,-11400),(2930,-11700)],
 [(0,-1900),(4,-2650),(10,-3150),(21,-3500),(46,-3800),(93,-4150),(195,-4600),(390,-5150),(600,-5750),(800,-6400),(980,-7000),(1150,-7600),(1330,-8200),(1510,-8800),(1690,-9350),(1870,-9850),(2050,-10350),(2250,-10800),(2500,-11150),(2850,-11400)],
 [(0,-1850),(4,-2750),(11,-3250),(25,-3600),(55,-3900),(111,-4250),(265,-4750),(480,-5350),(690,-5950),(890,-6600),(1070,-7200),(1240,-7800),(1420,-8400),(1600,-9000),(1780,-9550),(1960,-10050),(2140,-10550),(2350,-11000),(2600,-11400),(2950,-11650)],
 [(0,-1950),(4,-2700),(10,-3200),(23,-3550),(50,-3850),(101,-4200),(225,-4650),(435,-5250),(645,-5850),(845,-6500),(1025,-7100),(1195,-7700),(1375,-8300),(1555,-8900),(1735,-9450),(1915,-9950),(2095,-10450),(2300,-10900),(2550,-11250),(2900,-11450)],
 [(0,-1800),(4,-2650),(10,-3150),(22,-3500),(48,-3800),(96,-4150),(205,-4650),(405,-5200),(615,-5800),(815,-6450),(995,-7050),(1165,-7650),(1345,-8250),(1525,-8850),(1705,-9400),(1885,-9900),(2065,-10400),(2270,-10850),(2520,-11200),(2870,-11400)],
 [(0,-2000),(4,-2700),(11,-3200),(24,-3550),(52,-3850),(106,-4200),(250,-4700),(460,-5300),(670,-5900),(870,-6550),(1050,-7150),(1220,-7750),(1400,-8350),(1580,-8950),(1760,-9500),(1940,-10000),(2120,-10500),(2320,-10950),(2580,-11300),(2930,-11500)],
 [(0,-1900),(4,-2750),(10,-3250),(23,-3650),(51,-4000),(103,-4350),(240,-4850),(420,-5450),(610,-6100),(800,-6750),(980,-7350),(1150,-7950),(1330,-8550),(1510,-9150),(1690,-9700),(1870,-10200),(2050,-10700),(2260,-11150),(2520,-11550),(2860,-11800)],
 [(0,-1850),(4,-2700),(11,-3200),(25,-3550),(55,-3850),(115,-4200),(270,-4500),(560,-4750),(870,-5000),(1150,-5400),(1400,-5900),(1600,-6500),(1780,-7200),(1950,-7900),(2100,-8600),(2250,-9300),(2400,-9900),(2560,-10400),(2750,-10800),(2950,-10950)],
]

GROUPS = ["blue", "magenta", "black"]
COLORS = {"blue": "#0000ff", "magenta": "#ff00ff", "black": "#000000"}
LAST_GEN = 3000

Y_MAJOR = [-12000, -10000, -8000, -6000, -4000, -2000]
Y_LABELS = ["\u221212 000", "\u221210 000", "\u22128000", "\u22126000", "\u22124000", "\u22122000"]
X_MAJOR = [500, 1000, 1500, 2000, 2500, 3000]
X_LABELS = ["500", "1000", "1500", "2000", "2500", "3000"]

# ---------------- build long table ----------------
rows = []
for grp, runs in zip(GROUPS, [BLUE_RUNS, MAGENTA_RUNS, BLACK_RUNS]):
    for i, pts in enumerate(runs):
        pts = list(pts) + [(LAST_GEN, pts[-1][1])]
        for g, v in pts:
            rows.append((grp, f"{grp}{i}", g, v))
df = pd.DataFrame(rows, columns=["group", "run", "gen", "value"])

# ---------------- plot ----------------
sns.set_style("white")
plt.rcParams["font.family"] = ["Liberation Serif", "DejaVu Serif"]
plt.rcParams["axes.unicode_minus"] = True

W, H = 935, 549
fig = plt.figure(figsize=(W / 100, H / 100), dpi=100)
ax = fig.add_axes([50 / W, 11 / H, (834 - 50) / W, (538 - 54) / H])

sns.lineplot(data=df, x="gen", y="value", hue="group", hue_order=GROUPS,
             palette=COLORS, units="run", estimator=None, drawstyle="steps-post",
             linewidth=0.95, alpha=0.82, legend=False, ax=ax)

ax.set_xlim(-64, 3056)
ax.set_ylim(-12850, -1400)

for s in ["top", "right"]:
    ax.spines[s].set_visible(False)
ax.spines["left"].set_position(("data", 0))
ax.spines["bottom"].set_position(("data", -12500))
for s in ["left", "bottom"]:
    ax.spines[s].set_color("#555555")
    ax.spines[s].set_linewidth(0.9)

ax.set_xticks(X_MAJOR, X_LABELS)
ax.set_xticks([g for g in range(100, 3001, 100) if g % 500], minor=True)
ax.set_yticks(Y_MAJOR, Y_LABELS)
ax.set_yticks([v for v in range(-12000, -1000, 500) if v % 2000], minor=True)

ax.tick_params(axis="both", which="major", direction="in", length=4.5, width=0.8,
               color="#555555", labelsize=12, labelcolor="#111111")
ax.tick_params(axis="both", which="minor", direction="in", length=2.5, width=0.7,
               color="#555555")
ax.tick_params(axis="x", which="major", pad=4)
ax.tick_params(axis="y", which="major", pad=3)

ax.set_xlabel("")
ax.set_ylabel("")
ax.grid(False)

fig.text(442 / W, 1 - 13 / H, "Comparison of Evolution of CF Values \u2212 50 runs",
         ha="center", va="center", fontsize=14.8, color="#111111")
fig.text(33 / W, 1 - 36 / H, "CF Value", ha="left", va="center", fontsize=12, color="#111111")
fig.text(847 / W, 1 - 524 / H, "Generations", ha="left", va="center", fontsize=12, color="#111111")

fig.savefig("out.png", dpi=100)
